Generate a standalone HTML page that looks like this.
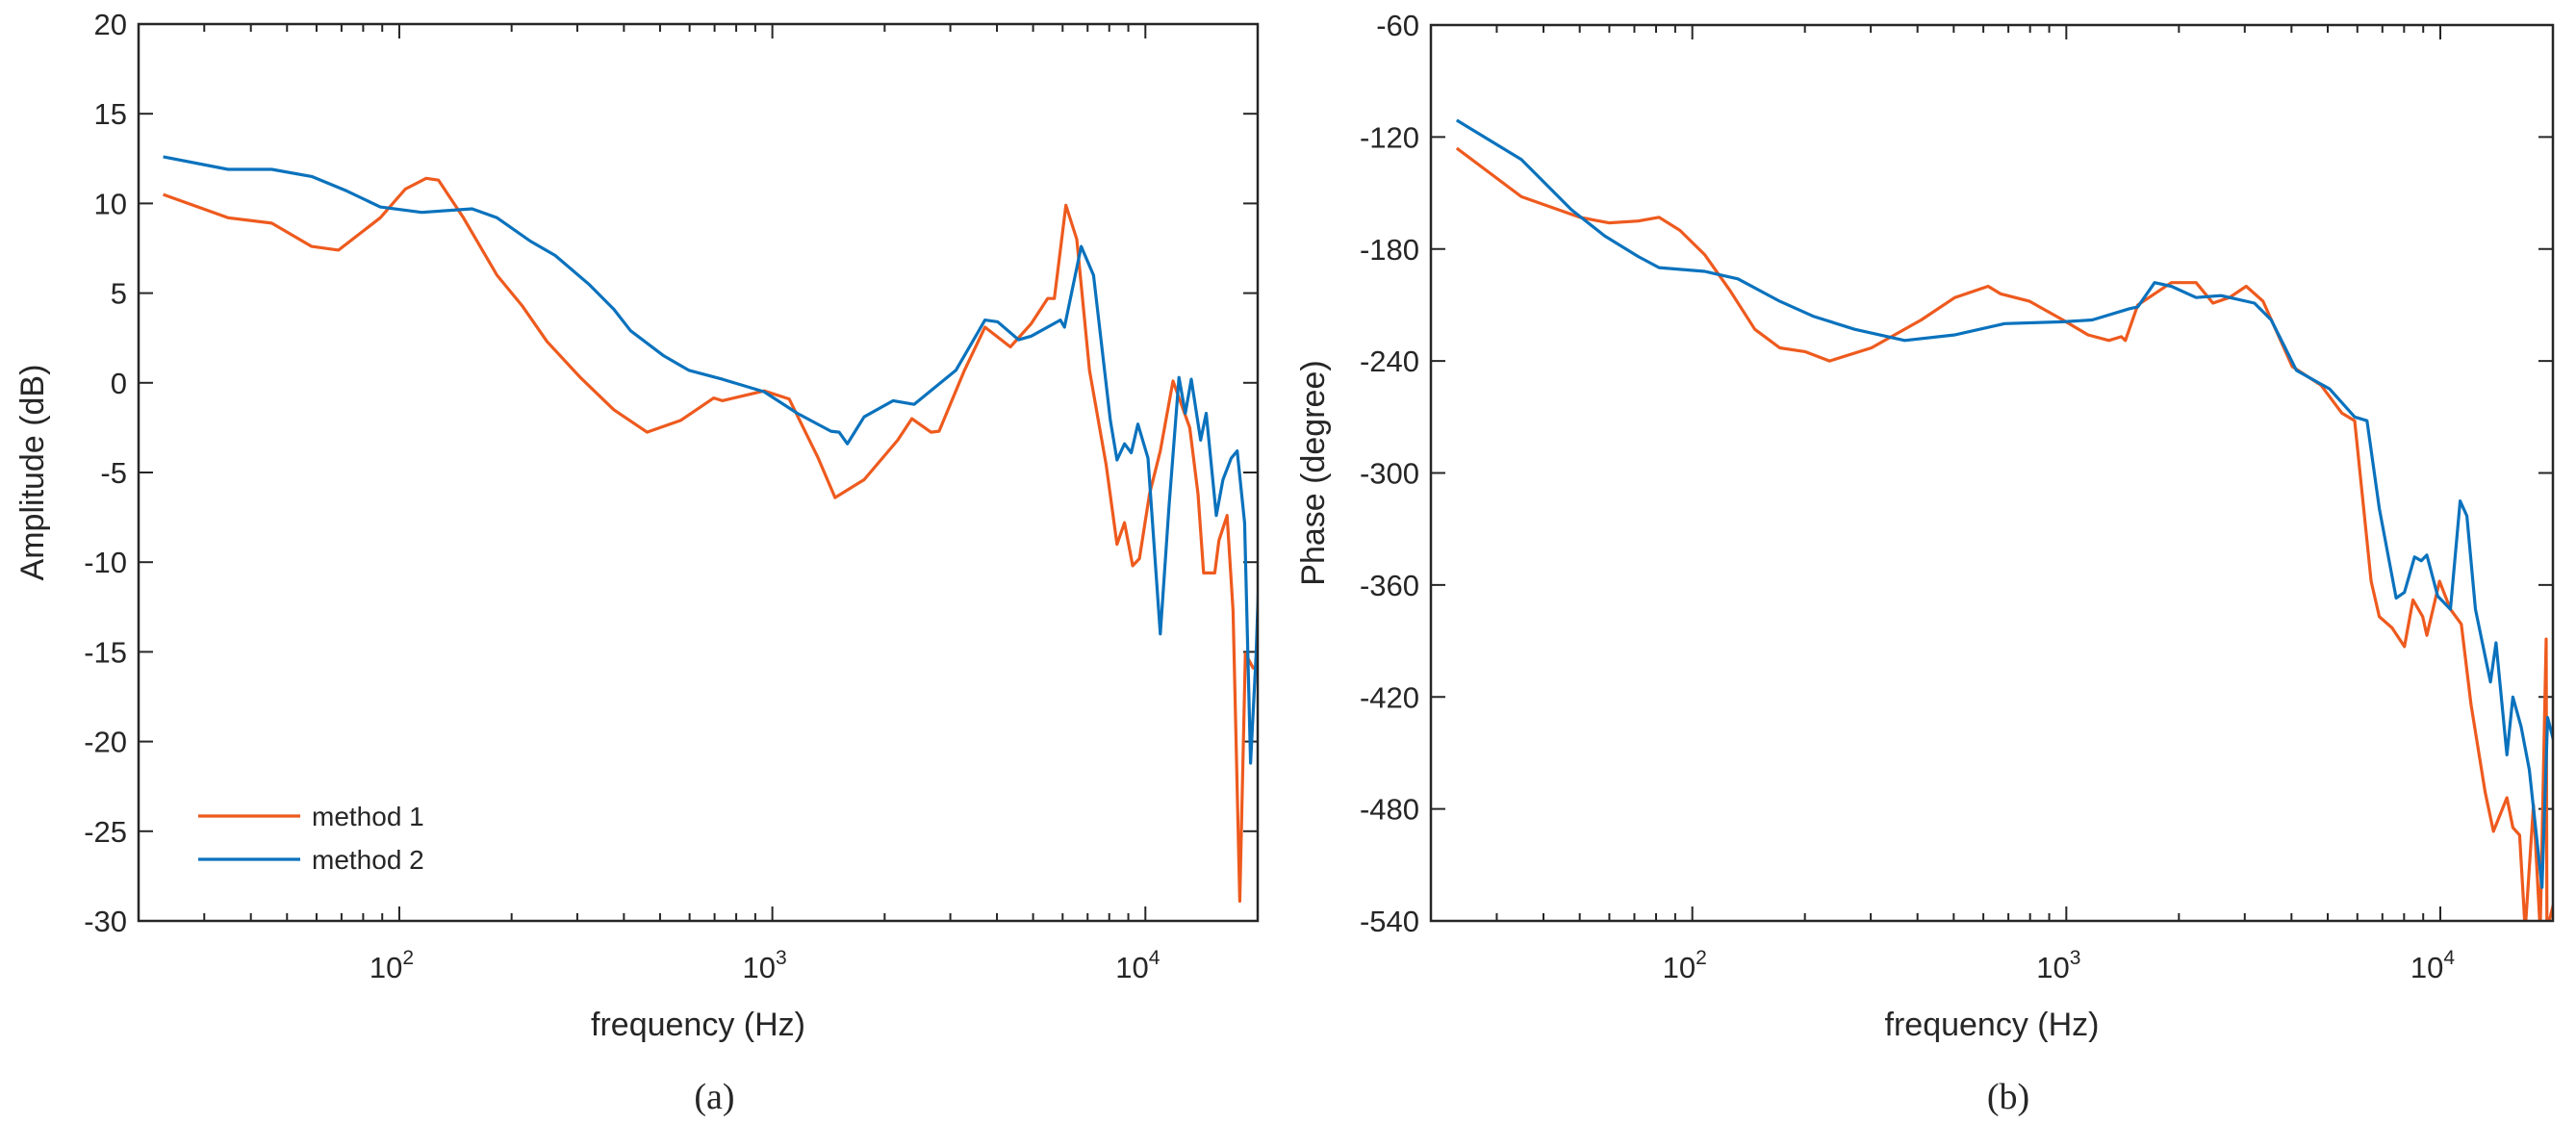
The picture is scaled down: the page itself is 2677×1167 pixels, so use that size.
<!DOCTYPE html>
<html><head><meta charset="utf-8"><style>
html,body{margin:0;padding:0;background:#fff;width:2677px;height:1167px;overflow:hidden}
svg text{font-family:"Liberation Sans",sans-serif;fill:#262626}
</style></head><body>
<svg id="chart" width="2677" height="1167" viewBox="0 0 2677 1167" xmlns="http://www.w3.org/2000/svg"></svg>
<script>
// ---- data (log10 frequency, value) ----
const ampF1 = [1.367,1.541,1.658,1.765,1.837,1.949,2.016,2.072,2.105,2.172,2.262,2.329,2.396,2.485,2.575,2.664,2.754,2.843,2.866,2.978,3.045,3.123,3.168,3.246,3.336,3.374,3.425,3.447,3.515,3.570,3.638,3.694,3.738,3.756,3.787,3.816,3.850,3.895,3.924,3.944,3.966,3.984,4.011,4.040,4.074,4.119,4.141,4.156,4.186,4.197,4.219,4.235,4.253,4.268,4.289,4.306];
const ampV1 = [10.5,9.2,8.9,7.6,7.4,9.2,10.8,11.4,11.3,9.2,6.0,4.3,2.3,0.3,-1.5,-2.75,-2.1,-0.85,-1.0,-0.45,-0.9,-4.2,-6.4,-5.4,-3.2,-2.0,-2.75,-2.7,0.7,3.1,2.0,3.3,4.7,4.7,9.9,8.0,0.7,-4.6,-9.0,-7.8,-10.2,-9.8,-6.2,-3.8,0.1,-2.5,-6.2,-10.6,-10.6,-8.8,-7.4,-12.7,-28.9,-15.1,-15.9,-15.9];
const ampF2 = [1.367,1.541,1.658,1.765,1.859,1.949,2.060,2.195,2.262,2.351,2.418,2.508,2.575,2.620,2.709,2.776,2.866,2.978,3.067,3.157,3.179,3.201,3.246,3.324,3.380,3.492,3.570,3.604,3.660,3.694,3.772,3.783,3.828,3.861,3.906,3.924,3.944,3.962,3.980,4.007,4.040,4.063,4.090,4.107,4.123,4.148,4.163,4.190,4.208,4.230,4.246,4.266,4.282,4.297,4.306];
const ampV2 = [12.6,11.9,11.9,11.5,10.7,9.8,9.5,9.7,9.2,7.9,7.1,5.5,4.1,2.9,1.5,0.7,0.2,-0.5,-1.7,-2.7,-2.75,-3.4,-1.9,-1.0,-1.2,0.7,3.5,3.4,2.4,2.6,3.5,3.1,7.6,6.0,-2.1,-4.3,-3.4,-3.9,-2.3,-4.2,-14.0,-7.0,0.3,-1.7,0.2,-3.2,-1.7,-7.4,-5.4,-4.2,-3.8,-7.8,-21.2,-15.1,-9.6];
const phF1 = [1.370,1.543,1.699,1.777,1.855,1.911,1.967,2.033,2.100,2.167,2.234,2.301,2.367,2.479,2.612,2.702,2.791,2.824,2.902,2.991,3.058,3.114,3.147,3.158,3.191,3.281,3.347,3.392,3.436,3.481,3.526,3.604,3.681,3.737,3.771,3.815,3.837,3.871,3.904,3.927,3.953,3.964,3.998,4.027,4.056,4.082,4.120,4.142,4.178,4.194,4.212,4.227,4.249,4.267,4.283,4.285,4.305];
const phV1 = [-126,-152,-163,-166,-165,-163,-170,-183,-202,-223,-233,-235,-240,-233,-218,-206,-200,-204,-208,-218,-226,-229,-227,-229,-210,-198,-198,-209,-206,-200,-208,-243,-253,-268,-272,-358,-377,-383,-393,-368,-377,-387,-358,-373,-381,-424,-471,-492,-474,-490,-494,-545,-478,-545,-389,-545,-529];
const phF2 = [1.370,1.543,1.677,1.766,1.855,1.911,2.033,2.122,2.234,2.323,2.434,2.568,2.702,2.835,2.991,3.069,3.169,3.191,3.236,3.281,3.347,3.414,3.503,3.548,3.615,3.704,3.771,3.804,3.837,3.882,3.904,3.931,3.949,3.964,3.993,4.027,4.053,4.071,4.094,4.134,4.149,4.178,4.194,4.216,4.238,4.272,4.287,4.305];
const phV2 = [-111,-132,-159,-173,-184,-190,-192,-196,-208,-216,-223,-229,-226,-220,-219,-218,-212,-211,-198,-200,-206,-205,-209,-218,-245,-255,-270,-272,-319,-367,-364,-345,-347,-344,-366,-373,-315,-323,-373,-412,-391,-451,-420,-436,-459,-522,-431,-445];
const ampTicks = [20,15,10,5,0,-5,-10,-15,-20,-25,-30];
const phTicks = [-60,-120,-180,-240,-300,-360,-420,-480,-540];
const decades = [2,3,4];

const NS="http://www.w3.org/2000/svg";
const svg=document.getElementById('chart');
function mk(tag,attrs,parent){const e=document.createElementNS(NS,tag);for(const k in attrs)e.setAttribute(k,attrs[k]);(parent||svg).appendChild(e);return e;}
const ORANGE="#EE5A1E", BLUE="#0A72BD";

function panel(id,L,R,T,B,yMin,yMax,ticks,series,ylabel,cap,ylabX,legend){
  const lx0=Math.log10(20), lx1=Math.log10(20000);
  const xs=v=>L+(v-lx0)/(lx1-lx0)*(R-L);
  const ys=v=>T+(yMax-v)/(yMax-yMin)*(B-T);
  const g=mk('g',{});
  
  
  mk('clipPath',{id:'clip-'+id},g); mk('rect',{x:L,y:T,width:R-L,height:B-T},g.lastChild);
  // ticks
  const tk=mk('g',{stroke:'#262626','stroke-width':2},g);
  
  
  for(let d=1;d<=4;d++)for(let m=1;m<=9;m++){const f=Math.pow(10,d)*m;if(f<20||f>20000)continue;const x=xs(Math.log10(f));const len=m===1?15:8;
    mk('line',{x1:x,y1:B,x2:x,y2:B-len},tk);mk('line',{x1:x,y1:T,x2:x,y2:T+len},tk);}
  ticks.forEach(t=>{const y=ys(t);mk('line',{x1:L,y1:y,x2:L+15,y2:y},tk);mk('line',{x1:R,y1:y,x2:R-15,y2:y},tk);
    const tx=mk('text',{x:L-12,y:y+11,'font-size':31,'text-anchor':'end'},g);tx.textContent=t;
    
    });
  decades.forEach(d=>{const x=xs(d);const tx=mk('text',{x:x-8,y:1016,'font-size':31,'text-anchor':'middle'},g);
    
    
    tx.appendChild(document.createTextNode('10'));const s=mk('tspan',{dy:-14,'font-size':21},tx);s.textContent=d;});
  // series
  series.forEach(s=>{let d='';s.f.forEach((f,i)=>{d+=(i?'L':'M')+xs(f).toFixed(1)+','+ys(s.v[i]).toFixed(1);});
    const p=mk('path',{d:d,fill:'none',stroke:s.c,'stroke-width':3.2,'stroke-linejoin':'round','clip-path':'url(#clip-'+id+')'},g);
    
    });
  const box=mk('rect',{x:L,y:T,width:R-L,height:B-T,fill:'none',stroke:'#262626','stroke-width':2.5},g);
  
  
  const yl=mk('text',{x:0,y:0,'font-size':34,'text-anchor':'middle',transform:`translate(${ylabX},${(T+B)/2}) rotate(-90)`},g);yl.textContent=ylabel;
  
  
  const xl=mk('text',{x:(L+R)/2,y:1076,'font-size':34,'text-anchor':'middle'},g);xl.textContent='frequency (Hz)';
  
  
  const c=mk('text',{x:(L+R)/2+17,y:1152,'font-size':38,'text-anchor':'middle',style:'font-family:"Liberation Serif",serif'},g);c.textContent=cap;
  
  
  if(legend){
    const lg=mk('g',{},g);
    
    
    [[ORANGE,'method 1',848],[BLUE,'method 2',893]].forEach(([col,txt,y])=>{
      mk('line',{x1:206,y1:y,x2:312,y2:y,stroke:col,'stroke-width':3.2},lg);
      const t=mk('text',{x:324,y:y+10,'font-size':28},lg);t.textContent=txt;
      
      });
  }
}
panel('amplitude',144,1307,25,957,-30,20,ampTicks,
  [{f:ampF1,v:ampV1,c:ORANGE,name:'amplitude-method-1-line'},{f:ampF2,v:ampV2,c:BLUE,name:'amplitude-method-2-line'}],
  'Amplitude (dB)','(a)',45,true);
panel('phase',1487,2653,26,957,-540,-60,phTicks,
  [{f:phF1,v:phV1,c:ORANGE,name:'phase-method-1-line'},{f:phF2,v:phV2,c:BLUE,name:'phase-method-2-line'}],
  'Phase (degree)','(b)',1376,false);
</script>
</body></html>
